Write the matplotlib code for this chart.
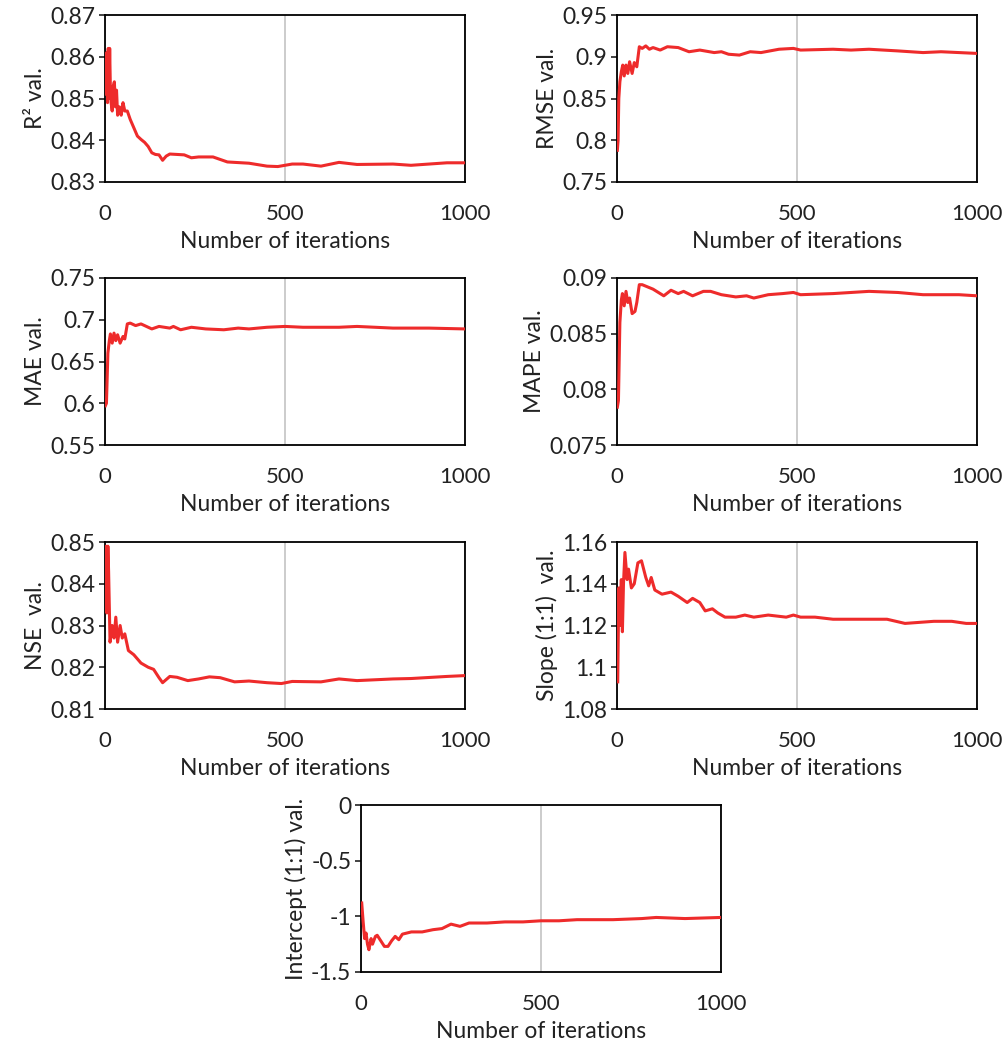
import matplotlib
matplotlib.use("Agg")
import matplotlib.pyplot as plt

plt.rcParams['font.family'] = ['Lato', 'DejaVu Sans']

# ---- data (iteration, value) ----------------------------------------
r2_it = [0, 3, 5, 7, 9, 11, 13, 15, 17, 20, 23, 26, 29, 32, 35, 40, 45, 50, 55, 62, 70, 80, 90,
         100, 110, 120, 130, 140, 150, 160, 170, 180, 200, 220, 240, 260, 300, 340, 400, 450,
         480, 520, 550, 600, 650, 700, 800, 850, 900, 950, 1000]
r2_val = [0.855, 0.851, 0.861, 0.849, 0.862, 0.850, 0.862, 0.852, 0.849, 0.847, 0.853, 0.854,
          0.848, 0.852, 0.846, 0.848, 0.846, 0.849, 0.847, 0.847, 0.845, 0.843, 0.841,
          0.8402, 0.8395, 0.8385, 0.8370, 0.8366, 0.8365, 0.8352, 0.8362, 0.8367, 0.8366,
          0.8365, 0.8358, 0.8360, 0.8360, 0.8348, 0.8345, 0.8338, 0.8337, 0.8343, 0.8343,
          0.8338, 0.8347, 0.8342, 0.8343, 0.8340, 0.8343, 0.8346, 0.8346]

rmse_it = [1, 3, 5, 8, 12, 16, 20, 25, 30, 35, 42, 48, 55, 62, 70, 80, 90, 100, 120, 140, 170,
           200, 230, 270, 290, 310, 340, 370, 400, 450, 490, 510, 600, 650, 700, 780, 850, 900,
           950, 1000]
rmse_val = [0.788, 0.80, 0.85, 0.87, 0.882, 0.890, 0.877, 0.890, 0.880, 0.894, 0.880, 0.893,
            0.888, 0.912, 0.910, 0.913, 0.909, 0.911, 0.908, 0.912, 0.911, 0.906, 0.908, 0.905,
            0.906, 0.903, 0.902, 0.906, 0.905, 0.909, 0.910, 0.908, 0.909, 0.908, 0.909, 0.907,
            0.905, 0.906, 0.905, 0.904]

mae_it = [1, 4, 8, 12, 15, 20, 25, 30, 35, 42, 50, 55, 62, 70, 85, 100, 130, 150, 180, 190,
          210, 240, 280, 330, 370, 400, 450, 500, 550, 650, 700, 800, 900, 1000]
mae_val = [0.597, 0.600, 0.660, 0.675, 0.683, 0.672, 0.684, 0.675, 0.682, 0.672, 0.680, 0.677,
           0.695, 0.696, 0.693, 0.695, 0.689, 0.692, 0.690, 0.692, 0.688, 0.691, 0.689, 0.688,
           0.690, 0.689, 0.691, 0.692, 0.691, 0.691, 0.692, 0.690, 0.690, 0.689]

mape_it = [1, 4, 8, 12, 15, 20, 25, 30, 35, 42, 50, 55, 62, 70, 85, 100, 130, 150, 170, 185,
           210, 240, 260, 290, 330, 360, 380, 420, 460, 490, 510, 600, 650, 700, 780, 850, 900,
           950, 1000]
mape_val = [0.0784, 0.0790, 0.0860, 0.0880, 0.0886, 0.0875, 0.0888, 0.0878, 0.0882, 0.0868,
            0.0870, 0.0878, 0.0894, 0.0894, 0.0892, 0.0890, 0.0884, 0.0889, 0.0886, 0.0888,
            0.0884, 0.0888, 0.0888, 0.0885, 0.0883, 0.0884, 0.0882, 0.0885, 0.0886, 0.0887,
            0.0885, 0.0886, 0.0887, 0.0888, 0.0887, 0.0885, 0.0885, 0.0885, 0.0884]

nse_it = [0, 3, 5, 8, 10, 14, 20, 25, 30, 35, 42, 48, 55, 65, 80, 100, 120, 135, 150, 160, 180,
          200, 230, 260, 290, 320, 360, 400, 450, 490, 520, 600, 650, 700, 800, 850, 950, 1000]
nse_val = [0.840, 0.849, 0.833, 0.849, 0.843, 0.826, 0.830, 0.827, 0.832, 0.826, 0.830, 0.827,
           0.828, 0.824, 0.823, 0.821, 0.820, 0.8195, 0.8175, 0.8163, 0.8178, 0.8176, 0.8168,
           0.8172, 0.8177, 0.8175, 0.8165, 0.8167, 0.8163, 0.8161, 0.8166, 0.8165, 0.8172,
           0.8168, 0.8172, 0.8173, 0.8178, 0.8180]

slope_it = [2, 5, 8, 12, 15, 18, 22, 28, 32, 40, 48, 58, 68, 80, 88, 95, 105, 125, 150, 170,
            195, 210, 230, 245, 265, 280, 300, 330, 355, 380, 420, 470, 490, 510, 550, 600, 700,
            750, 800, 880, 930, 970, 1000]
slope_val = [1.093, 1.138, 1.120, 1.142, 1.117, 1.140, 1.155, 1.142, 1.147, 1.138, 1.140, 1.150,
             1.151, 1.143, 1.139, 1.143, 1.137, 1.135, 1.136, 1.134, 1.131, 1.133, 1.131, 1.127,
             1.128, 1.126, 1.124, 1.124, 1.125, 1.124, 1.125, 1.124, 1.125, 1.124, 1.124, 1.123,
             1.123, 1.123, 1.121, 1.122, 1.122, 1.121, 1.121]

icpt_it = [2, 6, 10, 14, 18, 22, 28, 32, 40, 45, 55, 65, 75, 85, 95, 105, 115, 140, 170, 200,
           225, 250, 275, 300, 350, 400, 450, 500, 550, 600, 700, 780, 820, 900, 1000]
icpt_val = [-0.88, -1.05, -1.20, -1.15, -1.25, -1.30, -1.20, -1.25, -1.18, -1.17, -1.22, -1.27,
            -1.27, -1.22, -1.18, -1.21, -1.16, -1.14, -1.14, -1.12, -1.11, -1.07, -1.09, -1.06,
            -1.06, -1.05, -1.05, -1.04, -1.04, -1.03, -1.03, -1.02, -1.01, -1.02, -1.01]

# label, x, y, y-limits, y-ticks, tick format, axes box in pixels (left, top)
panels = [
    ("R² val.", r2_it, r2_val, (0.83, 0.87), [0.83, 0.84, 0.85, 0.86, 0.87], "{:.2f}", (105, 15)),
    ("RMSE val.", rmse_it, rmse_val, (0.75, 0.95), [0.75, 0.8, 0.85, 0.9, 0.95], "{:g}", (617, 15)),
    ("MAE val.", mae_it, mae_val, (0.55, 0.75), [0.55, 0.6, 0.65, 0.7, 0.75], "{:g}", (105, 278)),
    ("MAPE val.", mape_it, mape_val, (0.075, 0.09), [0.075, 0.08, 0.085, 0.09], "{:g}", (617, 278)),
    ("NSE  val.", nse_it, nse_val, (0.81, 0.85), [0.81, 0.82, 0.83, 0.84, 0.85], "{:.2f}", (105, 542)),
    ("Slope (1:1)  val.", slope_it, slope_val, (1.08, 1.16), [1.08, 1.1, 1.12, 1.14, 1.16], "{:g}", (617, 542)),
    ("Intercept (1:1) val.", icpt_it, icpt_val, (-1.5, 0), [-1.5, -1, -0.5, 0], "{:g}", (361, 805)),
]

W, H = 1003, 1042
fig = plt.figure(figsize=(W / 100, H / 100), dpi=100)
line_color = '#EE2B2B'

for label, xs, ys, ylim, yticks, fmt, (lx, ty) in panels:
    ax = fig.add_axes([lx / W, 1 - (ty + 167) / H, 360 / W, 167 / H])
    ax.plot(xs, ys, color=line_color, lw=2.2, zorder=3)
    ax.set_xlim(0, 1000)
    ax.set_ylim(*ylim)
    ax.set_xticks([0, 500, 1000])
    ax.set_yticks(yticks)
    ax.set_yticklabels([fmt.format(v) for v in yticks])
    ax.grid(axis='x', color='#c8c8c8', lw=1.3)
    ax.tick_params(axis='x', length=0, pad=16, labelsize=16, colors='#222222')
    ax.tick_params(axis='y', length=4, width=1.2, pad=3, labelsize=16.5, colors='#222222')
    for s in ax.spines.values():
        s.set_color('black')
        s.set_linewidth(1.3)
    ax.set_xlabel("Number of iterations", fontsize=16.5, labelpad=5, color='#222222')
    ax.set_ylabel(label, fontsize=16.5, labelpad=3, color='#222222')

fig.savefig("out.png", dpi=100)
